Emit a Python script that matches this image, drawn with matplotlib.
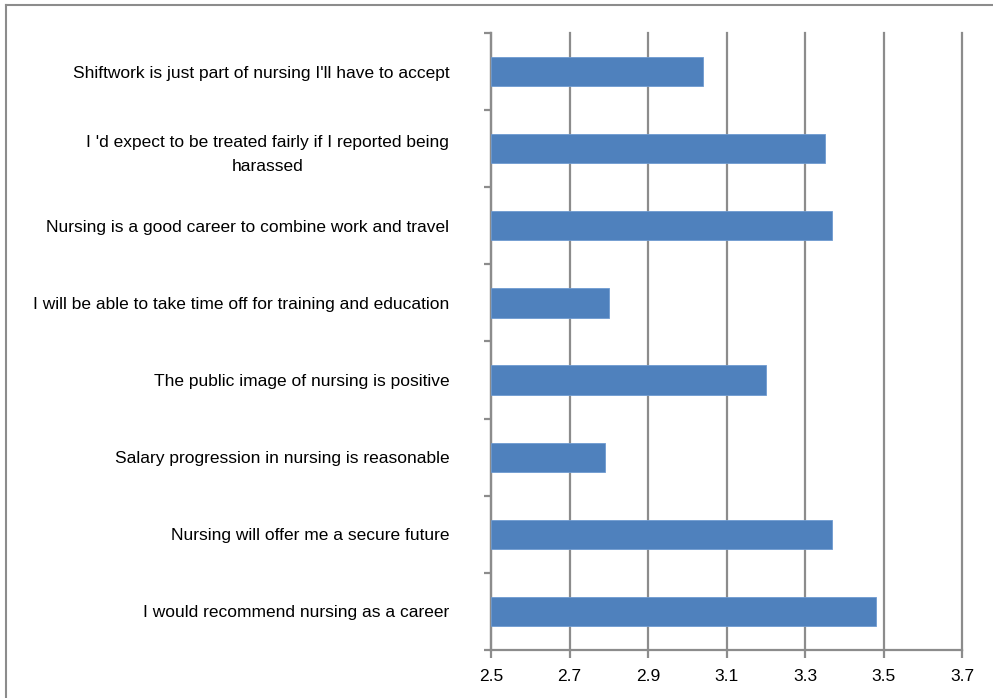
import matplotlib
matplotlib.use("Agg")
import matplotlib.pyplot as plt
from matplotlib.lines import Line2D
import numpy as np

# data, top to bottom as in the chart
labels = [
    "Shiftwork is just part of nursing I'll have to accept",
    "I 'd expect to be treated fairly if I reported being\nharassed",
    "Nursing is a good career to combine work and travel",
    "I will be able to take time off for training and education",
    "The public image of nursing is positive",
    "Salary progression in nursing is reasonable",
    "Nursing will offer me a secure future",
    "I would recommend nursing as a career",
]
scores = [3.04, 3.35, 3.37, 2.80, 3.20, 2.79, 3.37, 3.48]
xticks = [2.5, 2.7, 2.9, 3.1, 3.3, 3.5, 3.7]

plt.rcParams['font.family'] = ['Liberation Sans', 'DejaVu Sans']

fig = plt.figure(figsize=(9.93, 6.98), dpi=100)
ax = fig.add_axes([0.4945, 0.0688, 0.4743, 0.8839])

y = np.arange(len(labels))[::-1]
ax.barh(y, np.array(scores) - 2.5, left=2.5, height=0.38, color='#4f81bd',
        edgecolor='#6f9bd0', linewidth=0.6, zorder=3)

ax.set_xlim(2.5, 3.7)
ax.set_ylim(-0.5, len(labels) - 0.5)
ax.set_xticks(xticks)
ax.set_xticklabels([f"{v:.1f}" for v in xticks], fontsize=12.5)
ax.grid(axis='x', color='#8c8c8c', linewidth=1.6, zorder=0)
for gl in ax.get_xgridlines():
    gl.set_clip_on(False)

# category labels
ax.set_yticks(y)
ax.set_yticklabels(labels, fontsize=12.5, multialignment='center', linespacing=1.75)
ax.tick_params(axis='y', length=0, pad=30)
ax.set_yticks(np.arange(-0.5, len(labels), 1.0), minor=True)
ax.tick_params(axis='y', which='minor', length=5, width=1.6, color='#8c8c8c')
ax.tick_params(axis='x', length=6, width=1.6, color='#8c8c8c', pad=8)

for side in ['top', 'right']:
    ax.spines[side].set_visible(False)
for side in ['left', 'bottom']:
    ax.spines[side].set_color('#8c8c8c')
    ax.spines[side].set_linewidth(1.6)

# outer chart frame (left and top only visible)
fig.add_artist(Line2D([6/993, 6/993], [0, 1 - 5/698], color='#8c8c8c', linewidth=1.5))
fig.add_artist(Line2D([6/993, 1], [1 - 5/698, 1 - 5/698], color='#8c8c8c', linewidth=1.5))

fig.savefig("out.png", dpi=100)
